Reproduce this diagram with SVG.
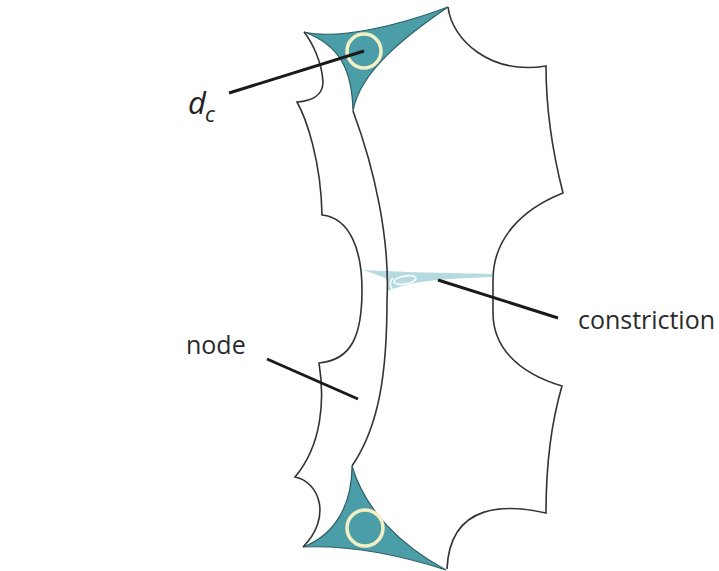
<svg xmlns="http://www.w3.org/2000/svg" width="719" height="571" viewBox="0 0 719 571">
<style>
.outline{fill:none;stroke:#333;stroke-width:1.6;stroke-linejoin:miter}
.teal{fill:#4b9ea7;stroke:#2f5f66;stroke-width:1.2}
.ring{fill:none;stroke:#f3f0c6;stroke-width:3.5}
.leader{stroke:#1a1a1a;stroke-width:3;stroke-linecap:butt}
.lbl{font-family:"Open Sans","Liberation Sans",sans-serif;font-size:25px;fill:#2a2a2a}
</style>
<rect width="719" height="571" fill="#ffffff"/>
<g id="constriction">
<path d="M362,270 C400,272 450,273 492,274 L492,277 C460,278 430,280 415,283 C400,286 392,289 388,291 L387,279 C378,275 370,272 362,270 Z" fill="#b6dae0"/>
<ellipse cx="405" cy="280" rx="11" ry="4" transform="rotate(-10 405 280)" fill="none" stroke="#f4fbfc" stroke-width="1.8"/>
<path d="M393,278 Q388,283 392,289" fill="none" stroke="#f4fbfc" stroke-width="1.6"/>
</g>
<g id="pore-top">
<path class="teal" d="M304,32 C340,40 400,25 448,7 C410,33 360,70 353,111 C352,70 340,45 304,32 Z"/>
<circle class="ring" cx="364" cy="51" r="17"/>
</g>
<g id="pore-bottom">
<path class="teal" d="M352,466 C352,505 335,535 303,547 C350,545 400,555 446,570 C400,545 365,510 352,466 Z"/>
<circle class="ring" cx="365" cy="528" r="18"/>
</g>
<g id="node">
<path class="outline" d="M304,32 C312,42 322,62 323,82 C323,95 312,101 297,102 C306,118 321,160 322,215 C350,218 362,250 362,290 C362,335 352,360 319,363 C325,400 322,445 295,477 C320,482 332,518 303,547"/>
<path class="outline" d="M353,111 C375,170 390,240 387,300 C387,370 380,425 352,466"/>
</g>
<g id="pore-right">
<path class="outline" d="M448,7 C452,40 490,75 546,66 C546,110 552,150 563,193 C520,210 493,240 493,280 L493,313 C493,345 515,372 562,386 C552,420 546,460 546,513 C510,505 450,500 447,569"/>
</g>
<g id="connectors">
<line class="leader" x1="229" y1="93" x2="364" y2="51"/>
<line class="leader" x1="267" y1="359" x2="358" y2="399"/>
<line class="leader" x1="438" y1="280" x2="558" y2="318"/>
</g>
<g id="labels">
<text x="188" y="114" style="font-family:'Open Sans','Liberation Sans',sans-serif;font-style:italic;font-size:31px;fill:#222">d</text>
<text x="205" y="122" style="font-family:'Open Sans','Liberation Sans',sans-serif;font-style:italic;font-size:22px;fill:#222">c</text>
<text class="lbl" x="186" y="354">node</text>
<text class="lbl" x="578" y="329" textLength="137" lengthAdjust="spacing">constriction</text>
</g>
</svg>
